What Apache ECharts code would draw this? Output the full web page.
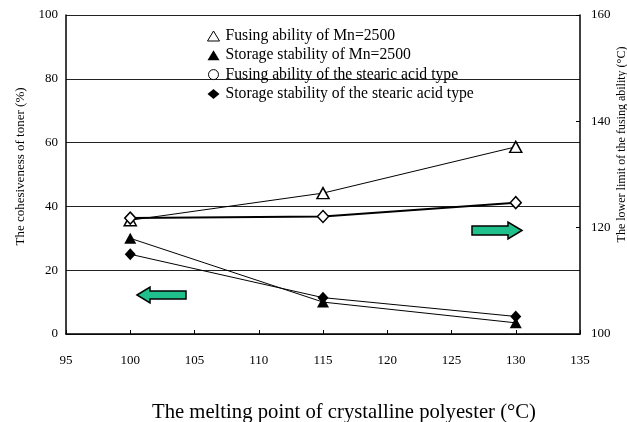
<!DOCTYPE html>
<html>
<head>
<meta charset="utf-8">
<script src="https://cdn.jsdelivr.net/npm/echarts@6/dist/echarts.min.js"></script>
<style>html,body{margin:0;padding:0;background:#fff}#c{width:627px;height:422px}</style>
</head>
<body>
<div id="c"></div>
<script>
const meltingPoints = [100, 115, 130];
const fusingMn2500 = [121.4, 126.5, 135.2];
const storageMn2500 = [30, 10, 3.5];
const fusingStearic = [121.8, 122.1, 124.7];
const storageStearic = [25, 11.4, 5.5];
const seriesNames = [
  'Fusing ability of Mn=2500',
  'Storage stability of Mn=2500',
  'Fusing ability of the stearic acid type',
  'Storage stability of the stearic acid type'
];
const F = 'Liberation Serif, Times New Roman, serif';

function pts(ys) { return meltingPoints.map((x, i) => [x, ys[i]]); }

const chart = echarts.init(document.getElementById('c'));
chart.setOption({
  animation: false,
  backgroundColor: '#fff',
  grid: { left: 66, right: 47, top: 15, bottom: 88, containLabel: false, outerBoundsMode: 'none' },
  legend: {
    orient: 'vertical', left: 202, top: 23, itemWidth: 12, itemHeight: 10, itemGap: 3.3,
    textStyle: { fontFamily: F, fontSize: 15.7, color: '#000', padding: [0, 0, 0, 1] },
    data: [
      { name: seriesNames[0], icon: 'triangle', itemStyle: { color: '#fff', borderColor: '#000', borderWidth: 1 } },
      { name: seriesNames[1], icon: 'triangle', itemStyle: { color: '#000', borderColor: '#000', borderWidth: 0 } },
      { name: seriesNames[2], icon: 'circle', itemStyle: { color: '#fff', borderColor: '#000', borderWidth: 1 } },
      { name: seriesNames[3], icon: 'diamond', itemStyle: { color: '#000', borderColor: '#000', borderWidth: 0 } }
    ]
  },
  xAxis: {
    type: 'value', min: 95, max: 135, interval: 5,
    name: 'The melting point of crystalline polyester (°C)',
    nameLocation: 'middle', nameGap: 68, nameMoveOverlap: false,
    nameTextStyle: { fontFamily: F, fontSize: 20.7, color: '#000', padding: [0, 0, 0, 42] },
    axisLine: { lineStyle: { color: '#000', width: 1.5 } },
    axisTick: { inside: true, length: 4, lineStyle: { color: '#000' } },
    axisLabel: { fontFamily: F, fontSize: 13, color: '#000', margin: 20 },
    splitLine: { show: false }
  },
  yAxis: [
    {
      type: 'value', min: 0, max: 100, interval: 20, position: 'left',
      name: 'The cohesiveness of toner (%)', nameLocation: 'middle', nameGap: 39, nameRotate: 90, nameMoveOverlap: false,
      nameTextStyle: { fontFamily: F, fontSize: 13, color: '#000', padding: [0, 0, 0, 16] },
      axisLine: { show: true, lineStyle: { color: '#000', width: 1.5 } },
      axisTick: { show: false },
      axisLabel: { fontFamily: F, fontSize: 13, color: '#000', margin: 8 },
      splitLine: { show: true, lineStyle: { color: '#222', width: 1 } }
    },
    {
      type: 'value', min: 100, max: 160, interval: 20, position: 'right',
      name: 'The lower limit of the fusing ability (°C)', nameLocation: 'middle', nameGap: 36, nameRotate: 90, nameMoveOverlap: false,
      nameTextStyle: { fontFamily: F, fontSize: 12, color: '#000', padding: [0, 0, 0, 60] },
      axisLine: { show: true, lineStyle: { color: '#000', width: 1.5 } },
      axisTick: { show: true, inside: true, length: 4, lineStyle: { color: '#000' } },
      axisLabel: { fontFamily: F, fontSize: 13, color: '#000', margin: 11 },
      splitLine: { show: false }
    }
  ],
  series: [
    {
      name: seriesNames[0], type: 'line', yAxisIndex: 1, data: pts(fusingMn2500),
      symbol: 'triangle', symbolSize: [12, 11],
      lineStyle: { color: '#000', width: 1 },
      itemStyle: { color: '#fff', borderColor: '#000', borderWidth: 1.5 }, z: 3
    },
    {
      name: seriesNames[1], type: 'line', yAxisIndex: 0, data: pts(storageMn2500),
      symbol: 'triangle', symbolSize: [12, 11],
      lineStyle: { color: '#000', width: 1 },
      itemStyle: { color: '#000', borderColor: '#000', borderWidth: 0 }, z: 3
    },
    {
      name: seriesNames[2], type: 'line', yAxisIndex: 1, data: pts(fusingStearic),
      symbol: 'diamond', symbolSize: [11, 12],
      lineStyle: { color: '#000', width: 2 },
      itemStyle: { color: '#fff', borderColor: '#000', borderWidth: 1.5 }, z: 4
    },
    {
      name: seriesNames[3], type: 'line', yAxisIndex: 0, data: pts(storageStearic),
      symbol: 'diamond', symbolSize: [11, 12],
      lineStyle: { color: '#000', width: 1 },
      itemStyle: { color: '#000', borderColor: '#000', borderWidth: 0 }, z: 3
    }
  ],
  graphic: [
    {
      type: 'polygon', z: 10,
      shape: { points: [[137, 295], [150, 287], [150, 291], [186, 291], [186, 299], [150, 299], [150, 303]] },
      style: { fill: '#20C08C', stroke: '#000', lineWidth: 1.5 }
    },
    {
      type: 'polygon', z: 10,
      shape: { points: [[522, 230.5], [508, 222], [508, 226], [472, 226], [472, 235], [508, 235], [508, 239]] },
      style: { fill: '#20C08C', stroke: '#000', lineWidth: 1.5 }
    }
  ]
});
</script>
</body>
</html>
